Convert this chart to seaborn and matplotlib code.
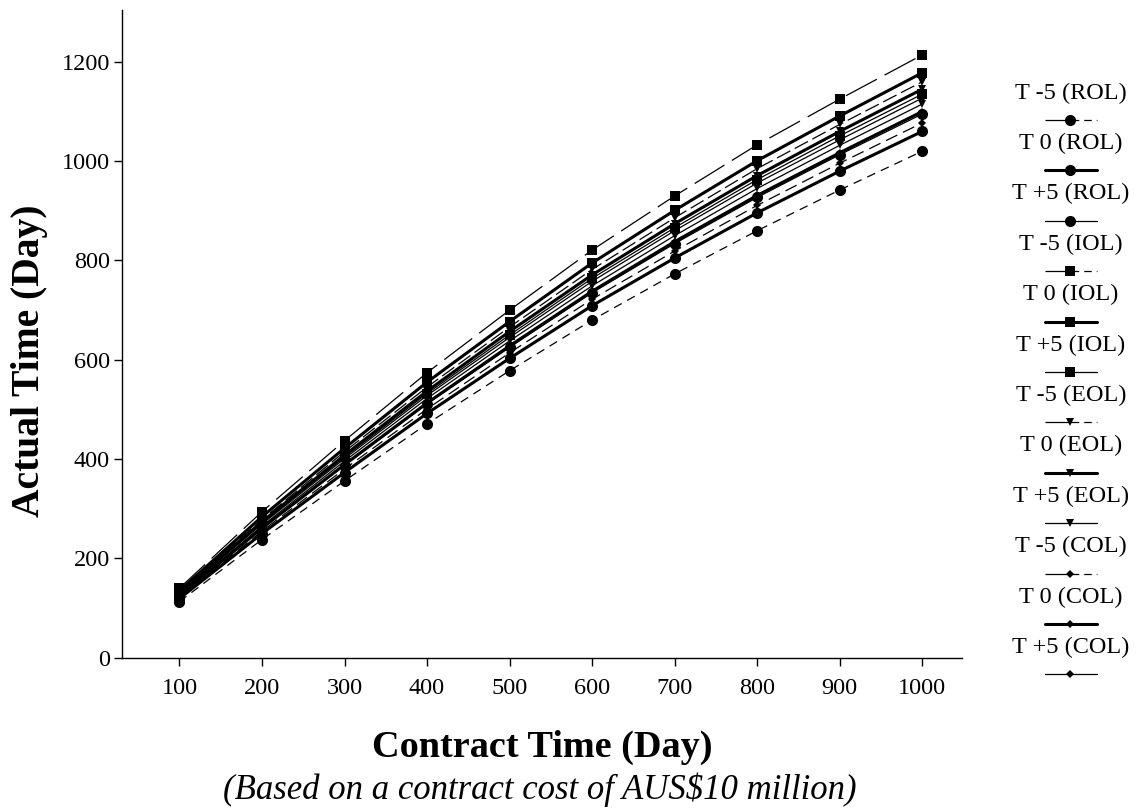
import pandas as pd
import matplotlib
matplotlib.use("Agg")
import matplotlib.pyplot as plt
from matplotlib.lines import Line2D
import seaborn as sns

# contract time (days) on the x axis
contract_days = [100, 200, 300, 400, 500, 600, 700, 800, 900, 1000]

# actual time (days), one list per series
rol_m5 = [113, 238, 356, 471, 578, 680, 773, 860, 942, 1020]
rol_0 = [119, 250, 373, 492, 603, 709, 805, 896, 980, 1060]
rol_p5 = [123, 260, 387, 511, 625, 735, 834, 927, 1013, 1095]
iol_m5 = [140, 294, 437, 574, 700, 821, 930, 1033, 1125, 1214]
iol_0 = [135, 284, 422, 555, 677, 795, 901, 1001, 1091, 1178]
iol_p5 = [129, 271, 404, 532, 650, 764, 866, 963, 1051, 1135]
eol_m5 = [133, 278, 415, 545, 666, 782, 886, 985, 1074, 1160]
eol_0 = [130, 274, 408, 537, 657, 771, 874, 971, 1060, 1145]
eol_p5 = [126, 265, 396, 522, 638, 749, 850, 945, 1032, 1115]
col_m5 = [121, 255, 380, 501, 614, 722, 819, 911, 996, 1077]
col_0 = [124, 261, 389, 513, 628, 738, 838, 931, 1017, 1100]
col_p5 = [128, 269, 401, 528, 645, 758, 860, 956, 1043, 1127]

series_names = ["T -5 (ROL)", "T 0 (ROL)", "T +5 (ROL)",
                "T -5 (IOL)", "T 0 (IOL)", "T +5 (IOL)",
                "T -5 (EOL)", "T 0 (EOL)", "T +5 (EOL)",
                "T -5 (COL)", "T 0 (COL)", "T +5 (COL)"]
series_values = [rol_m5, rol_0, rol_p5, iol_m5, iol_0, iol_p5,
                 eol_m5, eol_0, eol_p5, col_m5, col_0, col_p5]

# styling per group / per tolerance
group_marker = {"ROL": ("o", 8), "IOL": ("s", 7.5), "EOL": ("v", 6), "COL": ("D", 4)}
t_style = {
    "T -5": dict(lw=0.9),
    "T 0": dict(lw=2.2, ls="-"),
    "T +5": dict(lw=0.9, ls="-"),
}
m5_dashes = {"ROL": (0, (7, 5)), "IOL": (0, (28, 7)), "EOL": (0, (12, 4)), "COL": (0, (10, 5))}


def line_kwargs(name):
    t, grp = name.split(" (")
    grp = grp.strip(")")
    marker, ms = group_marker[grp]
    kw = dict(t_style[t])
    if t == "T -5":
        kw["ls"] = m5_dashes[grp]
    kw.update(marker=marker, markersize=ms, markeredgewidth=0, color="black")
    return kw


rows = []
for name, vals in zip(series_names, series_values):
    for x, y in zip(contract_days, vals):
        rows.append({"series": name, "contract": x, "actual": y})
df = pd.DataFrame(rows)

sns.set_style("ticks")
plt.rcParams["font.family"] = ["Liberation Serif", "DejaVu Serif"]
for k in ["text.color", "axes.labelcolor", "xtick.color", "ytick.color", "axes.edgecolor"]:
    plt.rcParams[k] = "black"

fig = plt.figure(figsize=(11.37, 8.10), dpi=100)
ax = fig.add_axes([0.107, 0.188, 0.739, 0.800])

for name in series_names:
    sub = df[df["series"] == name]
    sns.lineplot(data=sub, x="contract", y="actual", ax=ax, errorbar=None,
                 legend=False, **line_kwargs(name))

ax.set_xlim(30, 1048)
ax.set_ylim(0, 1305)
ax.set_xticks(contract_days)
ax.set_yticks([0, 200, 400, 600, 800, 1000, 1200])
ax.tick_params(labelsize=17.5, length=5.5, width=1, color="black")
ax.tick_params(axis="x", pad=9)
ax.tick_params(axis="y", pad=3)
ax.set_xlabel("Contract Time (Day)", fontsize=27.5, fontweight="bold", labelpad=22)
ax.set_ylabel("Actual Time (Day)", fontsize=28.5, fontweight="bold")
ax.yaxis.set_label_coords(-0.088, 0.458)
for s in ["left", "bottom"]:
    ax.spines[s].set_linewidth(1)
sns.despine(ax=ax)

fig.text(0.475, 0.025, "(Based on a contract cost of AUS$10 million)",
         ha="center", va="center", fontsize=25, style="italic")

# legend: label above a short line sample, stacked down the right side
W, H = 1137, 810
for i, name in enumerate(series_names):
    ty = 93 + i * 50.4
    fig.text(1071 / W, 1 - ty / H, name, ha="center", va="center", fontsize=17.5)
    ly = 1 - (ty + 27) / H
    kw = line_kwargs(name)
    kw["markevery"] = [1]
    if name.startswith("T -5"):
        kw["ls"] = (0, (27, 4, 6, 4, 6, 20))
    fig.add_artist(Line2D([1045 / W, 1070 / W, 1097 / W], [ly, ly, ly],
                          transform=fig.transFigure, **kw))

fig.savefig("out.png", dpi=100)
